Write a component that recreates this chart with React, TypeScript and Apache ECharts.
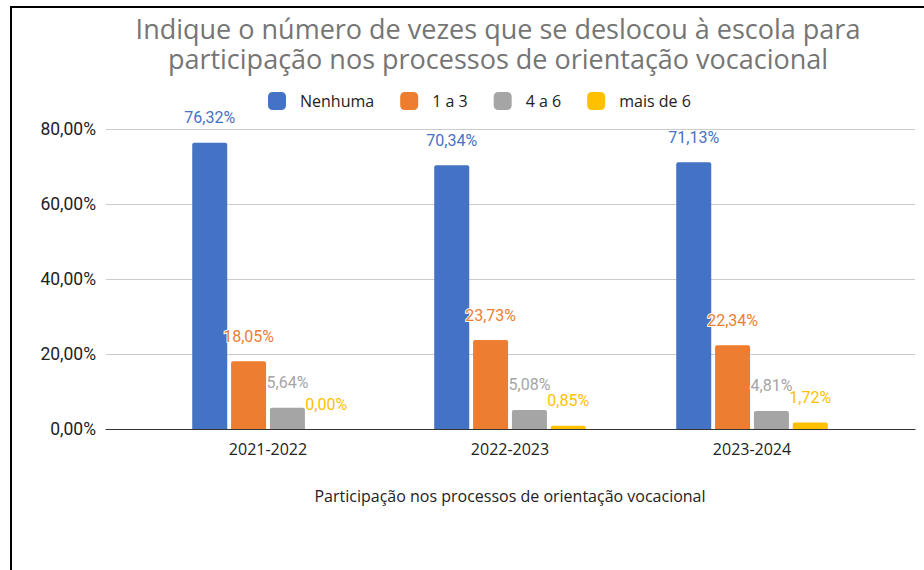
import React, { useEffect, useRef } from "react";
import * as echarts from "echarts";

const titleLines = [
  "Indique o número de vezes que se deslocou à escola para",
  "participação nos processos de orientação vocacional",
];
const categories = ["2021-2022", "2022-2023", "2023-2024"];
const seriesNames = ["Nenhuma", "1 a 3", "4 a 6", "mais de 6"];
const nenhuma = [76.32, 70.34, 71.13];
const umA3 = [18.05, 23.73, 22.34];
const quatroA6 = [5.64, 5.08, 4.81];
const maisDe6 = [0.0, 0.85, 1.72];
const colors = ["#4472C4", "#ED7D31", "#A5A5A5", "#FFC000"];
const xAxisName = "Participação nos processos de orientação vocacional";

const fmt = (v: number) => v.toFixed(2).replace(".", ",") + "%";

export default function App() {
  const ref = useRef<HTMLDivElement>(null);
  useEffect(() => {
    if (!ref.current) return;
    const chart = echarts.init(ref.current, null, { renderer: "svg" });
    const values = [nenhuma, umA3, quatroA6, maisDe6];
    chart.setOption({
      animation: false,
      backgroundColor: "#ffffff",
      title: titleLines.map((t, i) => ({
        text: t,
        left: 493,
        textAlign: "center",
        top: 9 + i * 30,
        padding: [5, 5, 0, 5],
        textStyle: {
          fontFamily: "Open Sans",
          fontSize: 27,
          fontWeight: "normal",
          color: "#757575",
          lineHeight: 28,
        },
      })),
      legend: {
        left: 263,
        top: 87,
        itemWidth: 18,
        itemHeight: 18,
        itemGap: 26,
        icon: "roundRect",
        data: seriesNames,
        textStyle: {
          fontFamily: "Open Sans",
          fontSize: 16,
          color: "#222",
          padding: [0, 0, 0, 9],
        },
      },
      grid: [
        { left: 106, right: 9, top: 129, bottom: 141 },
        { left: 147, right: 51, top: 129, bottom: 141 },
      ],
      xAxis: [
        {
          gridIndex: 0,
          type: "category",
          data: categories,
          axisLine: { show: true, lineStyle: { color: "#333", width: 1 } },
          axisTick: { show: false },
          axisLabel: { show: false },
          splitLine: { show: false },
        },
        {
          gridIndex: 1,
          type: "category",
          data: categories,
          axisLine: { show: false },
          axisTick: { show: false },
          axisLabel: {
            fontFamily: "Open Sans",
            fontSize: 16,
            color: "#222",
            margin: 12,
          },
          name: xAxisName,
          nameLocation: "middle",
          nameGap: 59,
          nameTextStyle: {
            fontFamily: "Open Sans",
            fontSize: 16,
            color: "#222",
          },
        },
      ],
      yAxis: [
        {
          gridIndex: 0,
          type: "value",
          min: 0,
          max: 80,
          interval: 20,
          axisLine: { show: false },
          axisTick: { show: false },
          axisLabel: {
            formatter: (v: number) => fmt(v),
            fontFamily: "Roboto",
            fontSize: 17.5,
            color: "#222",
            margin: 10,
          },
          splitLine: { lineStyle: { color: "#cccccc", width: 1 } },
        },
        {
          gridIndex: 1,
          type: "value",
          min: 0,
          max: 80,
          interval: 20,
          show: false,
          splitLine: { show: false },
        },
      ],
      series: seriesNames.map((name, i) => ({
        name,
        type: "bar",
        xAxisIndex: 1,
        yAxisIndex: 1,
        data: values[i],
        barWidth: 35,
        barGap: "11%",
        itemStyle: { color: colors[i], borderRadius: [2, 2, 0, 0] },
        label: {
          show: true,
          position: "top",
          distance: 17,
          formatter: (p: any) => fmt(p.value),
          fontFamily: "Roboto",
          fontSize: 16,
          color: colors[i],
          textBorderColor: "#ffffff",
          textBorderWidth: 2,
        },
      })),
    });
    return () => chart.dispose();
  }, []);
  return (
    <div style={{ position: "absolute", left: 0, top: 0, width: 924, height: 570 }}>
      <div ref={ref} style={{ width: 924, height: 570 }} />
      <div
        style={{
          position: "absolute",
          left: 10,
          top: 6,
          width: 914,
          height: 564,
          borderTop: "2px solid #000",
          borderLeft: "2px solid #000",
          boxSizing: "border-box",
          pointerEvents: "none",
        }}
      />
    </div>
  );
}
